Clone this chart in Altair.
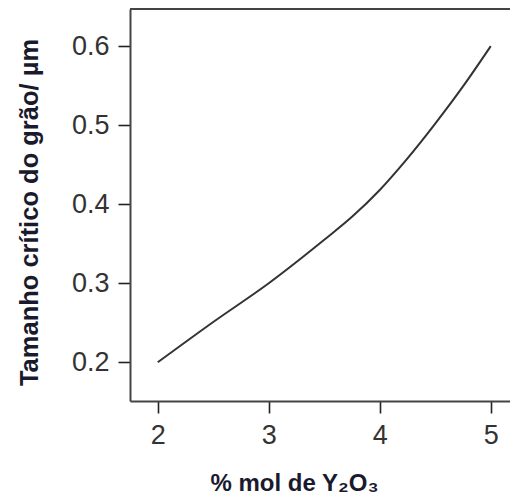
import altair as alt
import pandas as pd

# Data
mol_y2o3 = [2.0, 2.5, 3.0, 3.5, 3.75, 4.0, 4.25, 4.5, 4.75, 5.0]
tamanho_critico = [0.200, 0.251, 0.300, 0.355, 0.384, 0.418, 0.458, 0.502, 0.549, 0.600]

x_ticks = [2, 3, 4, 5]
y_ticks = [0.2, 0.3, 0.4, 0.5, 0.6]

df = pd.DataFrame({"x": mol_y2o3, "y": tamanho_critico})

FONT = "Liberation Sans, Arial, Helvetica, sans-serif"
TITLE_COLOR = "#1a1a2e"
FRAME = "#444444"
W, H = 380, 392

line = (
    alt.Chart(df)
    .mark_line(color="#333333", strokeWidth=2, interpolate="monotone", clip=True)
    .encode(
        x=alt.X(
            "x:Q",
            scale=alt.Scale(domain=[1.75, 1.75 + W / 111.0], nice=False, zero=False),
            axis=alt.Axis(
                values=x_ticks,
                format="d",
                title="% mol de Y₂O₃",
                titleX=164,
                titleY=89,
                titleAnchor=None,
                titleAlign="center",
                titleBaseline="alphabetic",
                titleFontSize=24,
                labelPadding=9,
            ),
        ),
        y=alt.Y(
            "y:Q",
            scale=alt.Scale(domain=[0.151, 0.647], nice=False, zero=False),
            axis=alt.Axis(
                values=y_ticks,
                format=".1f",
                title="Tamanho crítico do grão/ µm",
                titleX=-93,
                titleY=203,
                titleAngle=-90,
                titleAlign="center",
                titleBaseline="alphabetic",
                titleFontSize=25.5,
                labelPadding=9,
            ),
        ),
    )
)

top_border = alt.Chart(df).mark_rule(color=FRAME, strokeWidth=2).encode(
    x=alt.value(0), x2=alt.value(W), y=alt.value(0)
)

chart = (
    alt.layer(line, top_border)
    .properties(
        width=W,
        height=H,
        padding={"left": 130, "top": 9, "right": 0, "bottom": 96},
        autosize=alt.AutoSizeParams(type="none"),
    )
    .configure_view(stroke=None)
    .configure_axis(
        domain=True,
        domainColor=FRAME,
        domainWidth=2,
        grid=False,
        ticks=True,
        tickSize=12,
        tickColor="#222222",
        tickWidth=1.6,
        labelFont=FONT,
        labelFontSize=27,
        labelColor="#333333",
        titleFont=FONT,
        titleFontWeight="bold",
        titleColor=TITLE_COLOR,
    )
)

chart.save("out.html", embed_options={"renderer": "svg", "actions": False})
